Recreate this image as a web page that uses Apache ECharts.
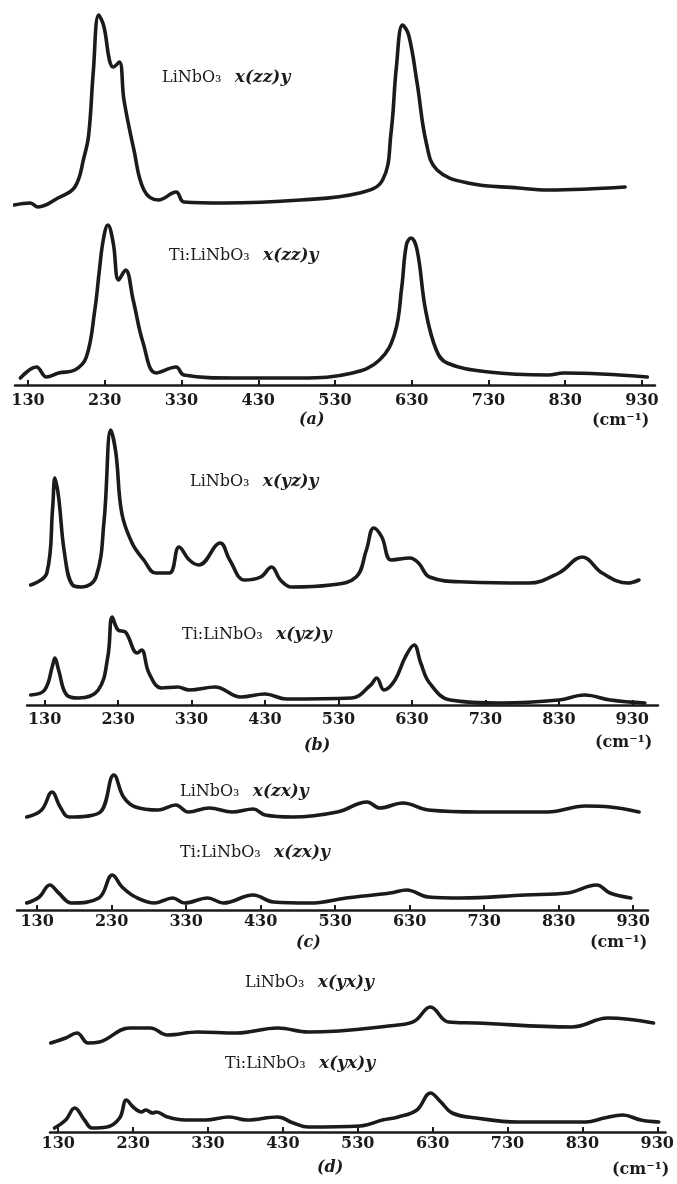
<!DOCTYPE html>
<html>
<head>
<meta charset="utf-8">
<script src="https://cdn.jsdelivr.net/npm/echarts@6/dist/echarts.min.js"></script>
<style>
html, body { margin: 0; padding: 0; background: #fff; }
#chart { width: 677px; height: 1184px; }
</style>
</head>
<body>
<div id="chart"></div>
<script>
var chart = echarts.init(document.getElementById('chart'));

// wavenumber tick labels (cm-1), same on every panel
const xTicks = [130, 230, 330, 430, 530, 630, 730, 830, 930];

// (a) x(zz)y  -- [wavenumber, intensity a.u.]
const zzPure = [[112,2],[133,4],[143,0],[169,9],[191,20],[203,50],[209,72],[215,135],[222,192],[229,180],[236,147],[241,140],[249,145],[255,107],[268,57],[281,17],[300,7],[323,15],[333,5],[385,4],[485,7],[562,14],[592,27],[603,74],[610,140],[618,182],[626,172],[637,124],[649,64],[663,37],[703,24],[769,19],[808,17],[908,20]];
const zzTi = [[120,7],[141,18],[154,8],[170,12],[191,15],[206,28],[217,75],[223,115],[228,145],[234,160],[241,142],[248,105],[257,115],[267,85],[280,42],[297,12],[323,18],[333,10],[398,7],[485,7],[553,12],[588,25],[608,52],[617,98],[623,140],[629,147],[637,135],[648,75],[662,35],[676,22],[730,13],[808,10],[828,12],[937,8]];

// (b) x(yz)y
const yzPure = [[111,2],[133,14],[141,80],[144,109],[149,90],[157,34],[168,2],[181,0],[200,10],[211,67],[220,157],[227,134],[235,74],[249,44],[265,27],[281,14],[300,14],[313,40],[327,27],[340,22],[369,44],[382,27],[402,7],[424,10],[439,20],[451,7],[466,0],[519,2],[554,10],[568,37],[578,59],[589,50],[602,27],[627,29],[639,24],[654,10],[704,5],[789,4],[830,14],[862,30],[889,14],[924,4],[939,7]];
const yzTi = [[111,10],[130,15],[141,40],[144,47],[149,35],[160,10],[176,7],[203,15],[216,48],[222,88],[230,75],[240,73],[256,52],[262,55],[272,32],[289,17],[311,18],[327,15],[362,18],[397,8],[430,11],[459,6],[548,7],[574,20],[582,27],[592,15],[607,25],[621,48],[633,60],[642,42],[654,22],[682,5],[751,2],[830,5],[865,10],[900,5],[947,2]];

// (c) x(zx)y
const zxPure = [[116,0],[136,7],[150,25],[161,10],[173,0],[213,4],[233,42],[246,20],[262,10],[293,7],[316,12],[333,5],[361,9],[392,5],[420,8],[436,2],[473,0],[533,5],[573,15],[590,9],[621,14],[655,7],[724,5],[815,5],[866,11],[899,10],[938,5]];
const zxTi = [[116,7],[133,13],[147,25],[159,17],[176,7],[213,12],[231,35],[244,23],[262,13],[288,7],[312,12],[328,7],[359,12],[380,7],[420,15],[447,8],[496,7],[545,12],[604,17],[626,20],[655,13],[699,12],[785,15],[842,17],[881,25],[899,17],[927,12]];

// (d) x(yx)y
const yxPure = [[120,0],[140,5],[155,10],[170,0],[185,1],[225,15],[253,15],[276,8],[316,11],[368,10],[423,15],[464,11],[584,18],[606,22],[627,36],[651,21],[688,20],[816,16],[864,25],[925,20]];
const yxTi = [[125,4],[140,12],[152,24],[165,12],[175,4],[195,5],[212,14],[221,32],[230,25],[241,20],[247,22],[256,19],[261,20],[276,15],[299,12],[327,12],[358,15],[382,12],[423,15],[444,9],[464,5],[533,6],[563,12],[584,15],[609,22],[627,39],[641,30],[656,19],[688,14],[744,10],[835,10],[859,14],[884,17],[908,12],[932,10]];

// layout of the four panels (pixels) and the shift of the upper trace
const panels = [
  { upper: zzPure, lower: zzTi, mode: 'x(zz)y', letter: '(a)', shift: 178,
    axisY: 385, yMax: 375, left: 15, width: 640, min: 113, max: 947, margin: 8,
    up: [162, 80], low: [169, 258], let: [310, 422], unit: [620, 423] },
  { upper: yzPure, lower: yzTi, mode: 'x(yz)y', letter: '(b)', shift: 118,
    axisY: 705, yMax: 285, left: 27, width: 631, min: 106, max: 965, margin: 7,
    up: [190, 484], low: [182, 637], let: [315, 748], unit: [623, 745] },
  { upper: zxPure, lower: zxTi, mode: 'x(zx)y', letter: '(c)', shift: 93,
    axisY: 910, yMax: 140, left: 17, width: 631, min: 103, max: 950, margin: 4,
    up: [180, 794], low: [180, 855], let: [307, 945], unit: [618, 945] },
  { upper: yxPure, lower: yxTi, mode: 'x(yx)y', letter: '(d)', shift: 89,
    axisY: 1132, yMax: 130, left: 50, width: 618, min: 119, max: 941, margin: 4,
    up: [245, 985], low: [225, 1066], let: [328, 1170], unit: [640, 1172] }
];

const ink = '#1b1b1b';
const serif = 'DejaVu Serif';

var grids = [], xAxes = [], yAxes = [], series = [], graphics = [];

function label(text, pos) {
  return {
    type: 'text', left: pos[0], top: pos[1] - 11,
    style: {
      text: text, fill: ink,
      rich: {
        n: { fontFamily: serif, fontSize: 16, fill: ink },
        i: { fontFamily: serif, fontSize: 17, fontStyle: 'italic', fontWeight: 'bold', fill: ink }
      }
    }
  };
}

panels.forEach(function (p, i) {
  grids.push({ left: p.left, width: p.width, top: p.axisY - p.yMax, height: p.yMax });
  xAxes.push({
    type: 'value', gridIndex: i, min: p.min, max: p.max,
    splitLine: { show: false },
    axisLine: { lineStyle: { color: ink, width: 2.5 } },
    axisTick: { inside: true, length: 5, customValues: xTicks, lineStyle: { color: ink, width: 2 } },
    axisLabel: {
      customValues: xTicks, margin: p.margin, color: ink,
      fontFamily: serif, fontWeight: 'bold', fontSize: 16
    }
  });
  yAxes.push({ type: 'value', gridIndex: i, min: 0, max: p.yMax, show: false });

  var style = { color: ink, width: 3.6, cap: 'round', join: 'round' };
  series.push({
    name: 'LiNbO3 ' + p.mode, type: 'line', xAxisIndex: i, yAxisIndex: i,
    data: p.upper.map(function (d) { return [d[0], d[1] + p.shift]; }),
    showSymbol: false, smooth: 0.4, lineStyle: style
  });
  series.push({
    name: 'Ti:LiNbO3 ' + p.mode, type: 'line', xAxisIndex: i, yAxisIndex: i,
    data: p.lower, showSymbol: false, smooth: 0.4, lineStyle: style
  });

  graphics.push(label('{n|LiNbO₃}    {i|' + p.mode + '}', p.up));
  graphics.push(label('{n|Ti:LiNbO₃}    {i|' + p.mode + '}', p.low));
  graphics.push({
    type: 'text', left: p.let[0] - 11, top: p.let[1] - 10,
    style: { text: p.letter, fill: ink, font: 'italic bold 16px "DejaVu Serif"' }
  });
  graphics.push({
    type: 'text', left: p.unit[0] - 28, top: p.unit[1] - 10,
    style: { text: '(cm⁻¹)', fill: ink, font: 'bold 16px "DejaVu Serif"' }
  });
});

chart.setOption({
  backgroundColor: '#ffffff',
  animation: false,
  grid: grids,
  xAxis: xAxes,
  yAxis: yAxes,
  series: series,
  graphic: graphics
});

window.addEventListener('resize', function () {
  chart.resize();
});
</script>
</body>
</html>
